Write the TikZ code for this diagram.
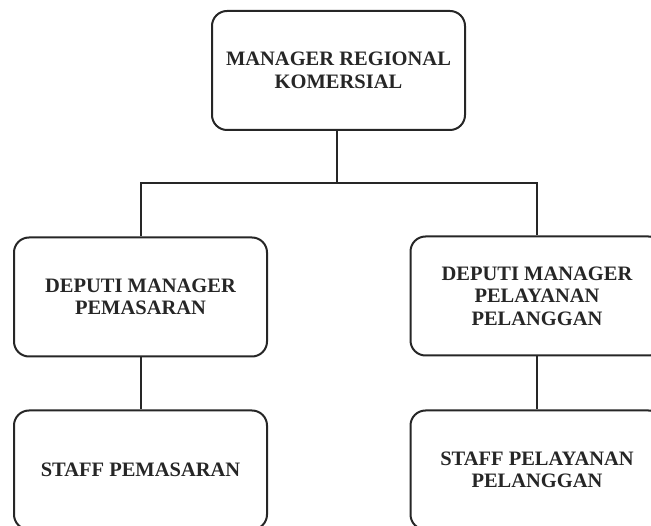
\documentclass[tikz,border=0pt]{standalone}
\usepackage{fontspec}
\setmainfont{Liberation Serif}
\begin{document}
\begin{tikzpicture}[x=1pt,y=1pt,
  orgbox/.style={draw=black!85, line width=2pt, rounded corners=15pt,
    minimum width=253pt, minimum height=119pt, align=center,
    font=\fontsize{20.5}{22.5}\selectfont\bfseries, text=black!85, inner sep=0pt},
  link/.style={draw=black!85, line width=2pt}]
\useasboundingbox (0,0) rectangle (651,-526);
\clip (0,0) rectangle (651,-526);
\node[orgbox] (top) at (338.5,-70.5) {MANAGER REGIONAL\\KOMERSIAL};
\node[orgbox] (dpm) at (140.5,-297) {DEPUTI MANAGER\\PEMASARAN};
\node[orgbox] (dpp) at (537,-296) {DEPUTI MANAGER\\PELAYANAN\\PELANGGAN};
\node[orgbox] (spm) at (140.5,-470) {STAFF PEMASARAN};
\node[orgbox] (spp) at (537,-470) {STAFF PELAYANAN\\PELANGGAN};
\coordinate (j) at (337,-183);
\draw[link] (top.south -| j) -- (j);
\draw[link] (dpm.north) |- (j) -| (dpp.north);
\draw[link] (dpm.south) -- (spm.north);
\draw[link] (dpp.south) -- (spp.north);
\end{tikzpicture}
\end{document}
